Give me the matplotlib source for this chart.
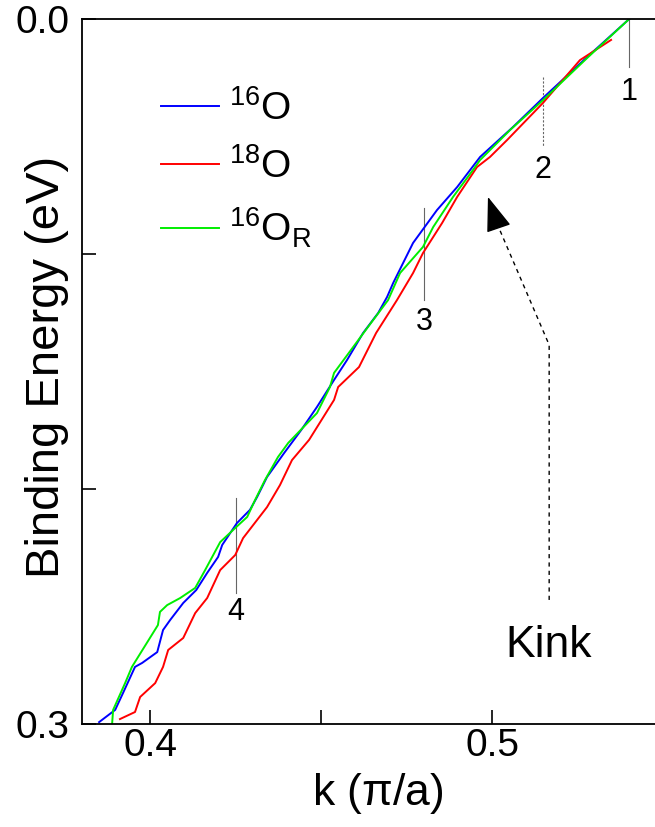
import matplotlib
matplotlib.use("Agg")
import matplotlib.pyplot as plt

plt.rcParams['font.family'] = ['Liberation Sans', 'DejaVu Sans']
plt.rcParams['mathtext.fontset'] = 'custom'
plt.rcParams['mathtext.rm'] = 'Liberation Sans'

# ---- data (k in pi/a, binding energy in eV) ----
k_16O = [0.3851, 0.3898, 0.3921, 0.3956, 0.3977, 0.4021, 0.4038, 0.4059, 0.4097,
         0.4135, 0.4167, 0.4199, 0.4211, 0.4254, 0.4292, 0.4313, 0.4342, 0.4392,
         0.4442, 0.4488, 0.4538, 0.4576, 0.4623, 0.4667, 0.4693, 0.4711, 0.4769,
         0.4790, 0.4839, 0.4898, 0.4965, 0.5061, 0.5149, 0.5278, 0.5401]
E_16O = [0.2992, 0.2940, 0.2868, 0.2757, 0.2740, 0.2694, 0.2600, 0.2557, 0.2485,
         0.2430, 0.2357, 0.2289, 0.2238, 0.2145, 0.2089, 0.2034, 0.1949, 0.1847,
         0.1749, 0.1651, 0.1536, 0.1451, 0.1336, 0.1251, 0.1183, 0.1123, 0.0953,
         0.0911, 0.0813, 0.0715, 0.0587, 0.0460, 0.0336, 0.0162, 0.0000]

k_18O = [0.3912, 0.3956, 0.3971, 0.4015, 0.4038, 0.4053, 0.4097, 0.4132, 0.4167,
         0.4205, 0.4249, 0.4272, 0.4342, 0.4380, 0.4415, 0.4465, 0.4538, 0.4550,
         0.4611, 0.4661, 0.4722, 0.4769, 0.4798, 0.4854, 0.4898, 0.4956, 0.4994,
         0.5044, 0.5149, 0.5257, 0.5348]
E_18O = [0.2979, 0.2949, 0.2885, 0.2826, 0.2757, 0.2685, 0.2634, 0.2528, 0.2464,
         0.2345, 0.2281, 0.2209, 0.2077, 0.1983, 0.1877, 0.1791, 0.1621, 0.1566,
         0.1481, 0.1336, 0.1196, 0.1081, 0.0996, 0.0868, 0.0757, 0.0630, 0.0587,
         0.0515, 0.0357, 0.0175, 0.0089]

k_16OR = [0.3889, 0.3892, 0.3927, 0.3947, 0.3956, 0.4023, 0.4029, 0.4050, 0.4088,
          0.4132, 0.4161, 0.4205, 0.4249, 0.4284, 0.4307, 0.4336, 0.4374, 0.4404,
          0.4488, 0.4526, 0.4538, 0.4637, 0.4696, 0.4731, 0.4798, 0.4828, 0.4886,
          0.4944, 0.4965, 0.5053, 0.5149, 0.5278, 0.5401]
E_16OR = [0.3000, 0.2940, 0.2826, 0.2757, 0.2736, 0.2579, 0.2523, 0.2494, 0.2464,
          0.2421, 0.2345, 0.2226, 0.2166, 0.2119, 0.2047, 0.1962, 0.1864, 0.1804,
          0.1677, 0.1566, 0.1506, 0.1311, 0.1196, 0.1081, 0.0970, 0.0885, 0.0757,
          0.0643, 0.0600, 0.0472, 0.0345, 0.0166, 0.0000]

series_labels = [r'$\mathregular{^{16}O}$', r'$\mathregular{^{18}O}$', r'$\mathregular{^{16}O_R}$']
series_colors = ['#0000ff', '#ff0000', '#00ee00']

# marker positions (k) with their vertical extent and label
marker_names = ['1', '2', '3', '4']
marker_k = [0.5401, 0.5149, 0.4801, 0.4251]
marker_top = [0.0, 0.0247, 0.0804, 0.2038]
marker_bot = [0.0204, 0.0545, 0.1196, 0.2443]
marker_lab_y = [0.0311, 0.0643, 0.1289, 0.2523]

xticks = [0.4, 0.45, 0.5]
xticklabels = ['0.4', '', '0.5']
yticks = [0.0, 0.1, 0.2, 0.3]
yticklabels = ['0.0', '', '', '0.3']

W, H = 655, 827
fig = plt.figure(figsize=(W / 100, H / 100), dpi=100)
ax_left, ax_right, ax_top, ax_bot = 82, 674, 19, 724
ax = fig.add_axes([ax_left / W, 1 - ax_bot / H, (ax_right - ax_left) / W, (ax_bot - ax_top) / H])

for k, E, lab, c in [(k_16O, E_16O, series_labels[0], series_colors[0]),
                     (k_18O, E_18O, series_labels[1], series_colors[1]),
                     (k_16OR, E_16OR, series_labels[2], series_colors[2])]:
    ax.plot(k, E, color=c, lw=1.4, label=lab)

ax.set_xlim(0.3801, 0.5532)
ax.set_ylim(0.3, 0.0)

for name, kx, t, b, ly in zip(marker_names, marker_k, marker_top, marker_bot, marker_lab_y):
    ls = (0, (2, 1.5)) if name == '2' else '-'
    ax.plot([kx, kx], [t, b], color='#666666', lw=0.8, ls=ls, zorder=1)
    ax.text(kx, ly, name, ha='center', va='center', fontsize=22)

# Kink arrow
corner = (0.5167, 0.1387)
start = (0.5167, 0.2472)
tip = (0.4988, 0.0757)
base = (0.5015, 0.0872)
ax.plot([start[0], corner[0], base[0]], [start[1], corner[1], base[1]],
        color='black', lw=1.0, ls=(0, (3, 3)))
ax.annotate('', xy=tip, xytext=base,
            arrowprops=dict(arrowstyle='-|>,head_length=1.1,head_width=0.4',
                            color='black', lw=1.0, shrinkA=0, shrinkB=0,
                            mutation_scale=20))
ax.text(0.5164, 0.2664, 'Kink', ha='center', va='center', fontsize=32)

ax.set_xticks(xticks, labels=xticklabels)
ax.set_yticks(yticks, labels=yticklabels)
ax.tick_params(direction='in', length=10, width=1.2, labelsize=28, pad=3)
ax.tick_params(axis='y', pad=9)
ax.spines['right'].set_visible(False)
for s in ['left', 'top', 'bottom']:
    ax.spines[s].set_linewidth(1.3)

ax.set_xlabel(r'k ($\mathregular{\pi}$/a)', fontsize=32, labelpad=5)
ax.set_ylabel('Binding Energy (eV)', fontsize=34)
ax.yaxis.set_label_coords(-0.022, 0.507)

leg = ax.legend(loc='upper left', bbox_to_anchor=(0.133, 0.899), frameon=False,
                fontsize=28, handlelength=1.5, handletextpad=0.25,
                labelspacing=0.52, borderpad=0, borderaxespad=0)

fig.savefig('out.png', dpi=100)
